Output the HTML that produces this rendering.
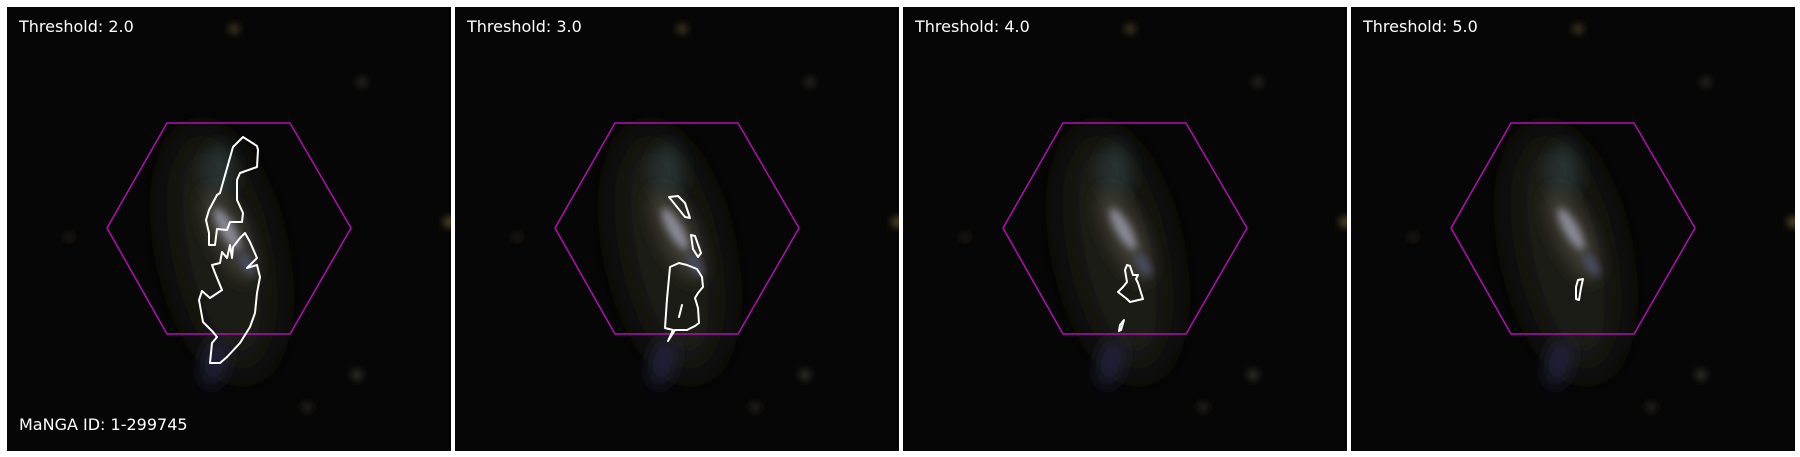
<!DOCTYPE html>
<html><head><meta charset="utf-8"><style>
html,body{margin:0;padding:0;background:#fff;width:1800px;height:457px;overflow:hidden}
svg{display:block}
text{font-family:"DejaVu Sans","Liberation Sans",sans-serif;fill:#fff}
</style></head><body>
<svg id="fig" width="1800" height="457" xmlns="http://www.w3.org/2000/svg">
<defs>
<filter id="b8" x="-50%" y="-50%" width="200%" height="200%"><feGaussianBlur stdDeviation="8"/></filter>
<filter id="b16" x="-50%" y="-50%" width="200%" height="200%"><feGaussianBlur stdDeviation="18"/></filter>
<filter id="b4" x="-50%" y="-50%" width="200%" height="200%"><feGaussianBlur stdDeviation="4"/></filter>
</defs>
</svg>
<script>
const NS='http://www.w3.org/2000/svg';
const thresholds=["2.0","3.0","4.0","5.0"];
const panelX=[7,455,903,1351];
const hexagon=[[100,221],[160,116],[283,116],[344,221],[283,327],[160,327]];
const contours=[
 [
  [[236,130],[250,139],[251,143],[250,160],[233,166],[230,173],[230,193],[236,206],[235,215],[223,215],[220,223],[210,222],[208,238],[202,238],[202,226],[199,213],[202,203],[210,188],[213,186],[226,140]],
  [[238,226],[243,235],[250,251],[240,261],[250,258],[253,270],[250,286],[248,306],[243,320],[233,336],[220,350],[213,356],[203,356],[205,336],[210,330],[206,325],[196,315],[192,293],[195,284],[203,291],[215,283],[208,266],[205,258],[213,256],[215,245],[220,251],[223,238],[225,251],[226,240],[233,231]]
 ],
 [
  [[214,190],[223,189],[230,196],[235,211],[230,210],[222,200]],
  [[236,228],[240,229],[246,246],[243,250],[238,242]],
  [[215,260],[224,256],[232,258],[242,262],[247,270],[248,280],[243,286],[240,291],[243,301],[244,316],[240,319],[232,323],[220,323],[213,334],[218,323],[210,321],[212,292]],
  [[227,298],[224,310]]
 ],
 [
  [[224,258],[227,259],[230,268],[235,268],[233,272],[235,276],[240,292],[227,295],[224,292],[215,285],[220,280],[224,275],[222,263]],
  [[221,313],[218,323],[216,324],[217,318]]
 ],
 [
  [[227,273],[232,272],[230,281],[228,293],[225,292],[225,280]]
 ]
];
const stars=[[227,22,'#4a4028'],[355,75,'#302a20'],[350,368,'#3a3e30'],[442,215,'#6a5a28'],[300,400,'#2a2520'],[62,230,'#201c16']];
const fig=document.getElementById('fig');
function mk(tag,attrs,parent){const e=document.createElementNS(NS,tag);for(const k in attrs)e.setAttribute(k,attrs[k]);parent.appendChild(e);return e;}
for(let i=0;i<thresholds.length;i++){
  const g=mk('g',{transform:'translate('+panelX[i]+',7)'},fig);
  
  
  const cid='clip'+i;
  const cp=mk('clipPath',{id:cid},g);mk('rect',{x:0,y:0,width:444,height:444},cp);
  const bg=mk('g',{'clip-path':'url(#'+cid+')'},g);
  const r=mk('rect',{x:0,y:0,width:444,height:444,fill:'#060606'},bg);
  
  
  const gal=mk('g',{},bg);
  
  
  mk('ellipse',{cx:215,cy:245,rx:50,ry:125,fill:'#1e1e18',transform:'rotate(-12 215 245)',filter:'url(#b16)'},gal);
  mk('ellipse',{cx:208,cy:355,rx:12,ry:25,fill:'#22243a',transform:'rotate(15 208 355)',filter:'url(#b8)'},gal);
  mk('ellipse',{cx:212,cy:165,rx:16,ry:28,fill:'#283230',filter:'url(#b8)'},gal);
  mk('ellipse',{cx:222,cy:228,rx:18,ry:50,fill:'#3e3a30',transform:'rotate(-25 222 228)',filter:'url(#b8)'},gal);
  mk('ellipse',{cx:220,cy:222,rx:7,ry:24,fill:'#8a8a98',transform:'rotate(-30 220 222)',filter:'url(#b4)'},gal);
  mk('ellipse',{cx:240,cy:257,rx:5,ry:14,fill:'#4a5068',transform:'rotate(-30 240 257)',filter:'url(#b4)'},gal);
  for(const s of stars){mk('circle',{cx:s[0],cy:s[1],r:5,fill:s[2],filter:'url(#b4)'},bg);}
  const hex=mk('polygon',{points:hexagon.map(p=>p.join(',')).join(' '),fill:'none',stroke:'#b010b0','stroke-width':1.5},g);
  
  
  for(const c of contours[i]){
    const tag=c.length>2?'polygon':'polyline';
    const p=mk(tag,{points:c.map(q=>q.join(',')).join(' '),fill:'none',stroke:'#fff','stroke-width':2,'stroke-linejoin':'round','stroke-linecap':'round'},g);
    
    
  }
  const t=mk('text',{x:12,y:25,'font-size':16},g);
  t.textContent='Threshold: '+thresholds[i];
  
  
  if(i===0){
    const m=mk('text',{x:12,y:423,'font-size':16},g);
    m.textContent='MaNGA ID: 1-299745';
    
    
  }
}
</script>
</body></html>
